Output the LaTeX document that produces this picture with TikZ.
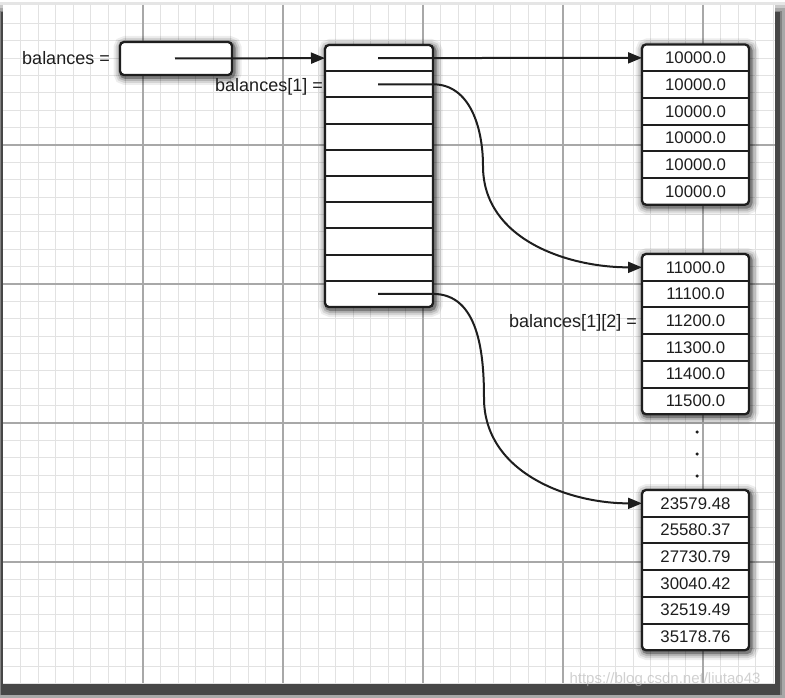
\documentclass[tikz,border=0pt]{standalone}
\usepackage{fontspec}
\setmainfont{Liberation Sans}
\usetikzlibrary{arrows.meta}
\pgfdeclarelayer{paper}
\pgfdeclarelayer{glow}
\pgfsetlayers{paper,glow,main}
\definecolor{ink}{HTML}{1E1E1E}
\definecolor{minorgrid}{HTML}{E2E2E2}
\definecolor{majorgrid}{HTML}{A8A8A8}
\tikzset{
  cellbig/.style={minimum width=108pt, minimum height=26.2pt, inner sep=0pt, outer sep=0pt, anchor=north west},
  cellnum/.style={minimum width=107pt, minimum height=26.7pt, inner sep=0pt, outer sep=0pt, anchor=north west, text=ink, font=\fontsize{16.8}{18}\selectfont},
  boxline/.style={line width=2.3pt, draw=ink},
  divline/.style={line width=2pt, draw=ink},
  ptr/.style={line width=2pt, draw=ink, -{Triangle[length=14pt,width=11pt]}},
  lbl/.style={inner sep=0pt, anchor=base east, text=ink, font=\fontsize{18}{20}\selectfont},
  dotmark/.style={circle, fill=ink, inner sep=0pt, minimum size=3.5pt},
  minorline/.style={draw=minorgrid, line width=0.9pt},
  majorline/.style={draw=majorgrid, line width=1.1pt},
}
\newcommand\myarrglow[2]{%
  \foreach \w/\o in {16/0.07,12/0.1,8/0.15,4/0.3}{%
    \draw[line width=\w pt, black, opacity=\o, rounded corners=4pt]
      ([shift={(1.5,2)}]#1) rectangle ([shift={(1.5,2)}]#2);}%
}
\newcommand\myarrframe[2]{%
  \begin{pgfonlayer}{glow}
  \myarrglow{#1}{#2}
  \fill[white, rounded corners=4pt] (#1) rectangle (#2);
  \end{pgfonlayer}
  \draw[boxline, rounded corners=4pt] (#1) rectangle (#2);
}
\begin{document}
\begin{tikzpicture}[x=1pt,y=-1pt]
\useasboundingbox (0,0) rectangle (785,698);
\begin{pgfonlayer}{paper}
  \fill[white] (0,0) rectangle (785,698);
  \foreach \w/\o in {24/0.1,18/0.12,12/0.16,6/0.22}
    \draw[line width=\w pt, black, opacity=\o] (3,14) rectangle (779,692);
  \fill[black!72] (0.5,12) rectangle (780,695);
  \fill[white] (3,5) rectangle (775,683);
  \begin{scope}
    \clip (3,5) rectangle (775,683);
    \foreach \k in {1,...,44} \draw[minorline] ({3+17.5*\k},5) -- ({3+17.5*\k},683);
    \foreach \k in {1,...,39} \draw[minorline] (3,{6+17.375*\k}) -- (775,{6+17.375*\k});
    \foreach \x in {143,283,423,563,703} \draw[majorline] (\x,5) -- (\x,683);
    \foreach \y in {145,284,423,562} \draw[majorline] (3,\y) -- (775,\y);
  \end{scope}
\end{pgfonlayer}

% small variable box
\node[cellbig, minimum width=112pt, minimum height=33pt] (sb) at (120,42) {};
\myarrframe{sb.north west}{sb.south east}
\node[lbl] (lb0) at (110,65) {balances =};

% array of rows
\foreach \i in {1,...,10} \node[cellbig] (m\i) at (325,{45+26.2*(\i-1)}) {};
\myarrframe{m1.north west}{m10.south east}
\foreach \i in {1,...,9} \draw[divline] (m\i.south west) -- (m\i.south east);
\node[lbl] (lb1) at (323,92) {balances[1] =};

% row 0
\foreach \v [count=\i] in {10000.0,10000.0,10000.0,10000.0,10000.0,10000.0}
  \node[cellnum] (a\i) at (642,{44.5+26.7*(\i-1)}) {\v};
\myarrframe{a1.north west}{a6.south east}
\foreach \i in {1,...,5} \draw[divline] (a\i.south west) -- (a\i.south east);

% row 1
\foreach \v [count=\i] in {11000.0,11100.0,11200.0,11300.0,11400.0,11500.0}
  \node[cellnum] (b\i) at (642,{254+26.7*(\i-1)}) {\v};
\myarrframe{b1.north west}{b6.south east}
\foreach \i in {1,...,5} \draw[divline] (b\i.south west) -- (b\i.south east);
\node[lbl] (lb2) at (637,327) {balances[1][2] =};

% last row
\foreach \v [count=\i] in {23579.48,25580.37,27730.79,30040.42,32519.49,35178.76}
  \node[cellnum] (c\i) at (642,{490+26.7*(\i-1)}) {\v};
\myarrframe{c1.north west}{c6.south east}
\foreach \i in {1,...,5} \draw[divline] (c\i.south west) -- (c\i.south east);

% dots
\node[dotmark] (d1) at (697,432) {};
\node[dotmark] (d2) at (697,454) {};
\node[dotmark] (d3) at (697,476) {};

% pointers
\coordinate (sbp) at (175,58.5);
\foreach \i in {1,2,10} \coordinate (p\i) at ([xshift=-55pt]m\i.east);
\coordinate (bend1) at (483,166);
\coordinate (bend2) at (484,398);
\draw[ptr] (sbp) -- (m1.west);
\draw[ptr] (p1) -- (a1.west);
\draw[ptr] (p2) -- (m2.east) to[out=0,in=90] (bend1) to[out=-90,in=180] (b1.west);
\draw[ptr] (p10) -- (m10.east) to[out=0,in=90] (bend2) to[out=-90,in=180] (c1.west);

% watermark
\node[text=black!30, opacity=0.6, font=\fontsize{15}{16}\selectfont, inner sep=0pt] (wm) at (665,680) {https://blog.csdn.net/liutao43};
\end{tikzpicture}
\end{document}
